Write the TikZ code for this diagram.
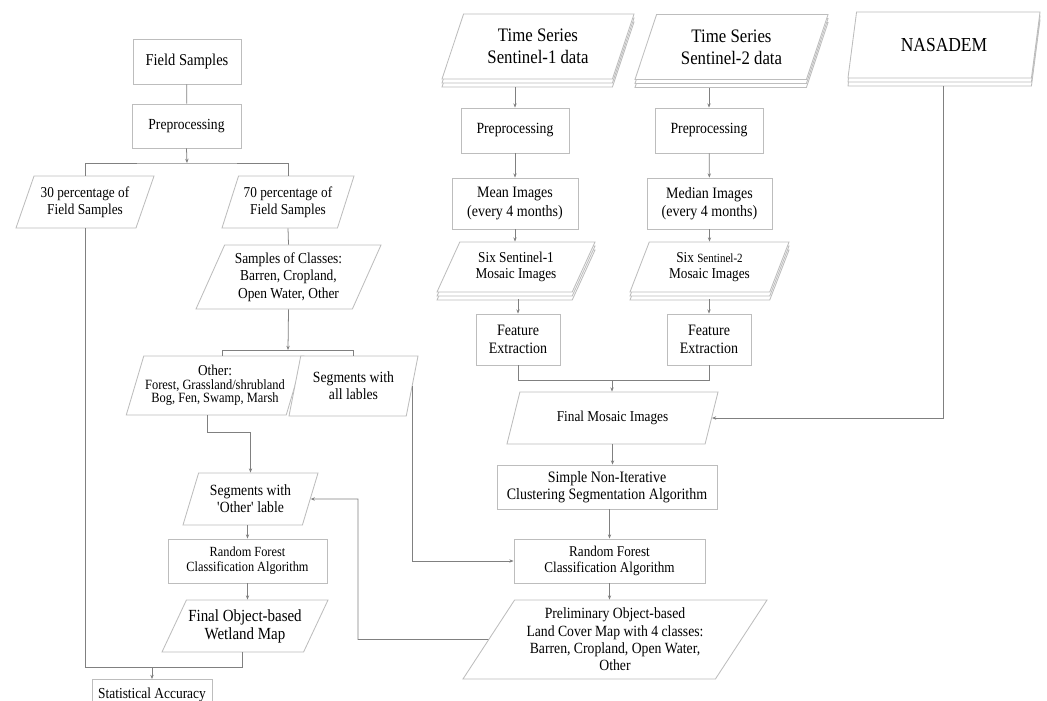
\documentclass[tikz,border=0pt]{standalone}
\usepackage{fontspec}
\setmainfont[FakeStretch=0.88]{Liberation Serif}
\usetikzlibrary{calc,arrows.meta,shapes.geometric,shadows}
\definecolor{boxline}{HTML}{BDBDBD}
\definecolor{wirecol}{HTML}{808080}
\def\fsz#1#2{\fontsize{\fpeval{#1*1.13}}{#2}\selectfont}
\tikzset{
	boxwh/.style 2 args={minimum width=#1*0.25mm, minimum height=#2*0.25mm},
	lean/.style 2 args={trapezium left angle=#1, trapezium right angle=#2},
	procbox/.style={draw=boxline, line width=0.6pt, fill=white, rectangle, align=center, inner sep=1pt, text=black},
	iobox/.style={draw=boxline, line width=0.6pt, fill=white, trapezium, trapezium stretches body, align=center, inner sep=1pt, text=black},
	docstack/.style={copy shadow={shadow xshift=0pt, shadow yshift=-2mm, draw=boxline, fill=white},
		copy shadow={shadow xshift=0pt, shadow yshift=-1mm, draw=boxline, fill=white}},
	wire/.style={draw=wirecol, line width=0.55pt},
	arr/.style={wire, -{Stealth[length=3pt, width=2.4pt]}},
}

\begin{document}
\begin{tikzpicture}[x=0.025cm, y=-0.025cm]
			%%%%% START %%%%%
			\clip (0,0) rectangle (1047,700);
			
			% field samples column
			\node[procbox, boxwh={108}{45}, font=\fsz{10.4}{12.5}] (fs) at (187,61.5) {Field Samples};
			\node[procbox, boxwh={109}{44}, font=\fsz{9.7}{12}] (pre0) at (186.5,126) {Preprocessing};
			\node[iobox, boxwh={138}{52}, lean={62}{118}, font=\fsz{9.5}{12.3}] (p30) at (85,202) {30 percentage of\\Field Samples};
			\node[iobox, boxwh={132}{52}, lean={64}{116}, font=\fsz{9.5}{12.3}] (p70) at (288,202) {70 percentage of\\Field Samples};
			\node[iobox, boxwh={185}{64}, lean={61}{119}, font=\fsz{9.6}{12.4}] (cls) at (288.5,277) {Samples of Classes:\\Barren, Cropland,\\Open Water, Other};
			\node[iobox, boxwh={176}{59}, lean={68}{112}, font=\fsz{8.9}{9.6}] (oth) at (215,385.5) {{\fsz{9.5}{9.6}Other:}\\Forest, Grassland/shrubland\\Bog, Fen, Swamp, Marsh};
			\node[iobox, boxwh={129}{60}, lean={69}{111}, font=\fsz{9.8}{12}] (segall) at (353.5,386) {Segments with\\all lables};
			\node[iobox, boxwh={135}{52}, lean={63}{117}, font=\fsz{9.8}{12}] (segoth) at (250.5,499) {Segments with\\\textquotesingle Other\textquotesingle\ lable};
			\node[procbox, boxwh={159}{44}, font=\fsz{8.8}{10.7}] (rfl) at (247.5,561) {Random Forest\\Classification Algorithm};
			\node[iobox, boxwh={166}{52}, lean={56}{124}, font=\fsz{10.7}{12.8}] (fob) at (245,626) {Final Object-based\\Wetland Map};
			\node[procbox, anchor=north, minimum width=120*0.25mm, inner ysep=2mm, font=\fsz{9.6}{11}] (acc) at (152,679) {Statistical Accuracy};
			
			% satellite columns
			\node[iobox, docstack, boxwh={192}{65}, lean={60}{120}, font=\fsz{12}{15.5}] (ts1) at (538,46.5) {Time Series\\Sentinel-1 data};
			\node[iobox, docstack, boxwh={193}{65}, lean={60}{120}, font=\fsz{12}{15.5}] (ts2) at (731.5,47) {Time Series\\Sentinel-2 data};
			\node[iobox, docstack, boxwh={192}{66}, lean={62}{118}, font=\fsz{12.5}{15}] (nasa) at (944,45) {NASADEM};
			\node[procbox, boxwh={108}{45}, font=\fsz{9.8}{12}] (pre1) at (515,130.5) {Preprocessing};
			\node[procbox, boxwh={108}{45}, font=\fsz{9.8}{12}] (pre2) at (709,130.5) {Preprocessing};
			\node[procbox, boxwh={126}{51}, font=\fsz{10}{14.2}] (mean) at (515,203.5) {Mean Images\\(every 4 months)};
			\node[procbox, boxwh={125}{51}, font=\fsz{10}{12.8}] (median) at (709.5,203.5) {Median Images\\(every 4 months)};
			\node[iobox, docstack, boxwh={158}{50}, lean={55}{125}, font=\fsz{9.5}{11.4}] (six1) at (516,267) {Six Sentinel-1\\Mosaic Images};
			\node[iobox, docstack, boxwh={159}{50}, lean={59}{121}, font=\fsz{9.5}{11.4}] (six2) at (709.5,267) {Six {\fsz{7.9}{11.4}Sentinel-2}\\Mosaic Images};
			\node[procbox, boxwh={84}{51}, font=\fsz{10}{12.6}] (fe1) at (518,339.5) {Feature\\Extraction};
			\node[procbox, boxwh={84}{51}, font=\fsz{10}{12.6}] (fe2) at (709,339.5) {Feature\\Extraction};
			\node[iobox, boxwh={211}{52}, lean={52}{128}, font=\fsz{9.5}{12}] (fmos) at (612.5,418) {Final Mosaic Images};
			\node[procbox, boxwh={220}{44}, font=\fsz{10}{12.3}] (snic) at (607,487) {Simple Non-Iterative\\Clustering Segmentation Algorithm};
			\node[procbox, boxwh={191}{44}, font=\fsz{9.4}{11.9}] (rfr) at (609.5,561) {Random Forest\\Classification Algorithm};
			\node[iobox, boxwh={304}{79}, lean={52}{128}, font=\fsz{9.8}{12.4}] (prelim) at (615,639.5) {Preliminary Object-based\\Land Cover Map with 4 classes:\\Barren, Cropland, Open Water,\\Other};
			
			% connectors, left
			\coordinate (b1) at (187,163);
			\coordinate (b2) at (288,350);
			\coordinate (b3) at (152,667);
			\coordinate (k1) at (230,432);
			\coordinate (k2) at (358,499);
			\draw[wire] (fs) -- (pre0);
			\draw[arr] (pre0.south) -- (b1);
			\draw[wire] (p30.north) |- (b1) -| (p70.north);
			\draw[wire] (p70.south) -- (cls.north);
			\draw[arr] (cls.south) -- (b2);
			\draw[wire] ($(oth.north)+(7,0)$) |- (b2) -| (segall.north);
			\draw[arr] ($(oth.south)+(-8,0)$) |- (k1) -| (segoth.north);
			\draw[arr] (segoth.south -| rfl.north) -- (rfl.north);
			\draw[arr] (rfl.south) -- (rfl.south |- fob.north);
			\draw[wire] (p30.south) |- (b3);
			\draw[wire] ($(fob.south)+(-3,0)$) |- (b3);
			\draw[arr] (b3) -- (acc.north);
			\draw[arr] (segall.east) |- (rfr.west);
			\draw[arr] (prelim.west) -| (k2) -- (segoth.east);
			
			% connectors, right
			\coordinate (b4) at (612,380);
			\draw[arr] ($(pre1.north |- ts1.south)+(0,8)$) -- (pre1.north);
			\draw[arr] ($(pre2.north |- ts2.south)+(0,8)$) -- (pre2.north);
			\draw[arr] (pre1) -- (mean);
			\draw[arr] (pre2) -- (median);
			\draw[arr] (mean.south) -- (mean.south |- six1.north);
			\draw[arr] (median.south) -- (median.south |- six2.north);
			\draw[arr] ($(fe1.north |- six1.south)+(0,7)$) -- (fe1.north);
			\draw[arr] ($(fe2.north |- six2.south)+(0,7)$) -- (fe2.north);
			\draw[wire] (fe1.south) |- (b4) -| (fe2.south);
			\draw[arr] (b4) -- (b4 |- fmos.north);
			\draw[arr] ($(nasa.bottom side)+(4,8)$) |- (fmos.east);
			\draw[arr] (fmos.south) -- (fmos.south |- snic.north);
			\draw[arr] (snic.south -| rfr.north) -- (rfr.north);
			\draw[arr] (rfr.south) -- (rfr.south |- prelim.north);
			
			%%%%% END %%%%%
\end{tikzpicture}
\end{document}
